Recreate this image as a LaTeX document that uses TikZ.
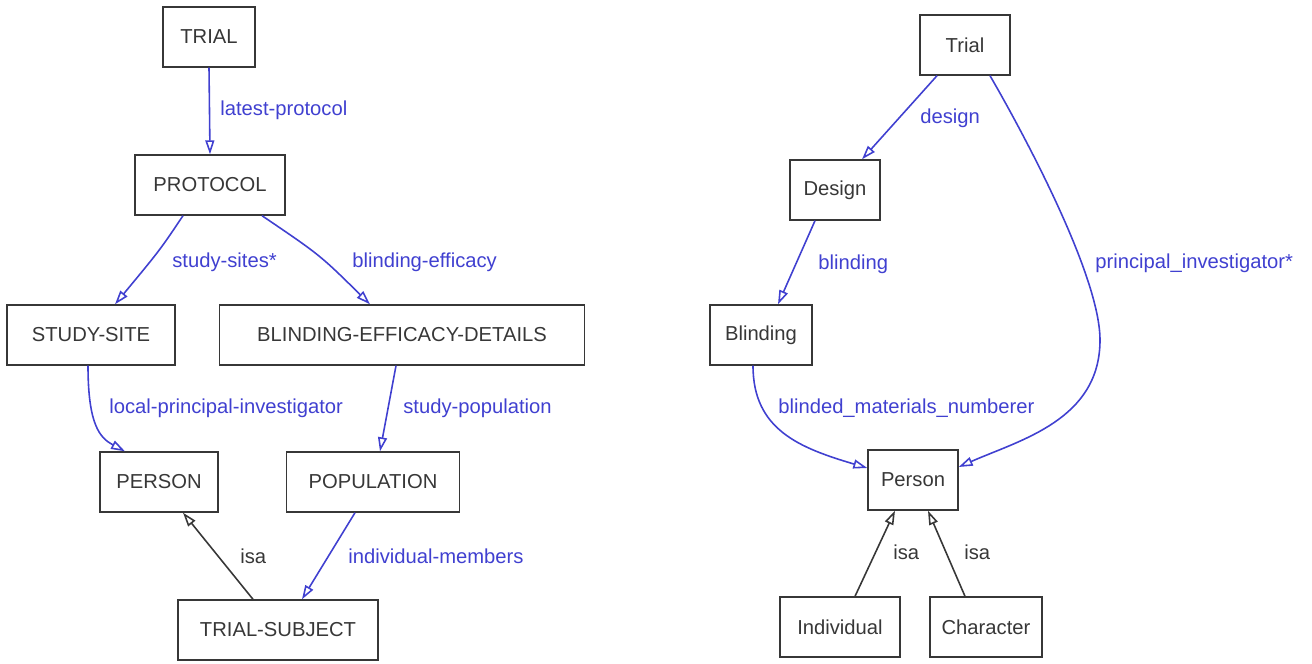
\documentclass[tikz,border=0pt]{standalone}
\usepackage{fontspec}
\setmainfont{Liberation Sans}
\usetikzlibrary{arrows.meta,calc}

\definecolor{relblue}{RGB}{64,64,208}
\definecolor{isagray}{RGB}{55,55,55}

\tikzset{
    cls/.style={draw=isagray, text=isagray, line width=0.8pt, minimum height=1.2cm, inner sep=0pt, font=\fontsize{11.5}{13}\selectfont},
    rel/.style={draw=relblue, line width=0.9pt, -{Triangle[open,length=0.28cm,width=0.18cm]}},
    isa/.style={draw=isagray, line width=0.9pt, -{Triangle[open,length=0.28cm,width=0.18cm]}},
    rellbl/.style={text=relblue, anchor=west, inner sep=0pt, font=\fontsize{11.5}{13}\selectfont},
    isalbl/.style={text=isagray, anchor=west, inner sep=0pt, font=\fontsize{11.5}{13}\selectfont}
}

\begin{document}
\begin{tikzpicture}[x=0.02cm,y=-0.02cm]
    \useasboundingbox (0,0) rectangle (1312,663);

    % left diagram
    \node[cls, minimum width=1.84cm] (trial) at (209,37) {TRIAL};
    \node[cls, minimum width=3.0cm] (protocol) at (210,185) {PROTOCOL};
    \node[cls, minimum width=3.36cm] (site) at (91,335) {STUDY-SITE};
    \node[cls, minimum width=7.3cm] (bed) at (402,335) {BLINDING-EFFICACY-DETAILS};
    \node[cls, minimum width=2.36cm] (person) at (159,482) {PERSON};
    \node[cls, minimum width=3.46cm] (population) at (373,482) {POPULATION};
    \node[cls, minimum width=4.0cm] (subject) at (278,630) {TRIAL-SUBJECT};

    \draw[rel] (trial.south) -- (protocol.north);
    \draw[rel] ($(protocol.south)+(-27,0)$) .. controls (160,250) .. ($(site.north)+(24,0)$);
    \draw[rel] ($(protocol.south)+(52,0)$) .. controls (320,255) .. ($(bed.north)+(-32,0)$);
    \draw[rel] ($(site.south)+(-3,0)$) .. controls (88,425) and (100,438) .. ($(person.north)+(-34,0)$);
    \draw[rel] ($(bed.south)+(-6,0)$) -- ($(population.north)+(7,0)$);
    \draw[rel] ($(population.south)+(-18,0)$) -- ($(subject.north)+(24,0)$);
    \draw[isa] ($(subject.north)+(-25,0)$) -- ($(person.south)+(24,0)$);

    \node[rellbl] (lblprotocol) at (220,110) {latest-protocol};
    \node[rellbl] (lblsites) at (172,262) {study-sites*};
    \node[rellbl] (lblefficacy) at (352,262) {blinding-efficacy};
    \node[rellbl] (lbllocal) at (109,408) {local-principal-investigator};
    \node[rellbl] (lblpopulation) at (403,408) {study-population};
    \node[rellbl] (lblmembers) at (348,556) {individual-members};
    \node[isalbl] (lblisa) at (240,556) {isa};

    % right diagram
    \node[cls, minimum width=1.8cm] (rtrial) at (965,45) {Trial};
    \node[cls, minimum width=1.8cm] (design) at (835,190) {Design};
    \node[cls, minimum width=2.04cm] (blinding) at (761,335) {Blinding};
    \node[cls, minimum width=1.8cm] (rperson) at (913,480) {Person};
    \node[cls, minimum width=2.4cm] (individual) at (840,627) {Individual};
    \node[cls, minimum width=2.24cm] (character) at (986,627) {Character};

    \draw[rel] ($(rtrial.south)+(-28,0)$) -- ($(design.north)+(27,0)$);
    \draw[rel] ($(design.south)+(-20,0)$) -- ($(blinding.north)+(17,0)$);
    \draw[rel] ($(rtrial.south)+(25,0)$) .. controls (1010,110) and (1100,270) .. (1100,340)
        .. controls (1100,420) and (1020,440) .. ($(rperson.east)+(0,-13)$);
    \draw[rel] ($(blinding.south)+(-8,0)$) .. controls (753,430) and (800,448) .. ($(rperson.west)+(0,-12)$);
    \draw[isa] ($(individual.north)+(15,0)$) -- ($(rperson.south)+(-18,0)$);
    \draw[isa] ($(character.north)+(-21,0)$) -- ($(rperson.south)+(15,0)$);

    \node[rellbl] (lbldesign) at (920,118) {design};
    \node[rellbl] (lblinvestigator) at (1095,263) {principal\_investigator*};
    \node[rellbl] (lblblinding) at (818,264) {blinding};
    \node[rellbl] (lblnumberer) at (778,408) {blinded\_materials\_numberer};
    \node[isalbl] (lblisaone) at (893,552) {isa};
    \node[isalbl] (lblisatwo) at (964,552) {isa};
\end{tikzpicture}
\end{document}
